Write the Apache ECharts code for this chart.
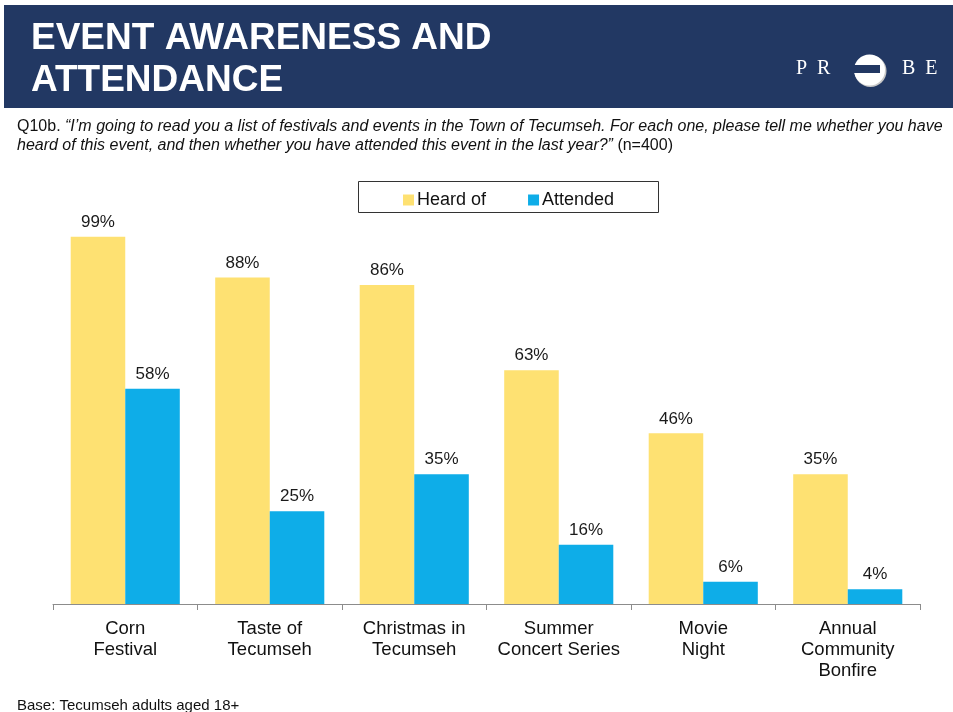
<!DOCTYPE html>
<html>
<head>
<meta charset="utf-8">
<script src="https://cdn.jsdelivr.net/npm/echarts@6/dist/echarts.min.js"></script>
<style>
	html, body { margin: 0; padding: 0; background: #ffffff; }
	#chart { width: 953px; height: 712px; }
</style>
</head>
<body>
<div id="chart"></div>
<script>
// 类别
var categories = ["Corn\nFestival", "Taste of\nTecumseh", "Christmas in\nTecumseh",
	"Summer\nConcert Series", "Movie\nNight", "Annual\nCommunity\nBonfire"];

// 数据
var heardOf = [99, 88, 86, 63, 46, 35];
var attended = [58, 25, 35, 16, 6, 4];

var seriesNames = ["Heard of", "Attended"];
var colors = ["#FEE172", "#0EADE8"];

var navy = "#223863";
var fontFamily = "'Liberation Sans', Arial, sans-serif";

var chart = echarts.init(document.getElementById("chart"), null, {renderer : "canvas"});

function barLabel(){
	return {
		show : true,
		position : "top",
		distance : 6,
		color : "#1a1a1a",
		fontSize : 17,
		fontFamily : fontFamily,
		formatter : "{c}%"
	};
}

var option = {
	animation : false,
	backgroundColor : "#ffffff",
	color : colors,
	textStyle : {fontFamily : fontFamily},
	grid : {
		left : 53,
		right : 33,
		top : 233,
		bottom : 108,
		containLabel : false
	},
	legend : {
		top : 186,
		left : 398,
		itemWidth : 11,
		itemHeight : 11,
		itemGap : 42,
		icon : "rect",
		textStyle : {fontSize : 18, color : "#111111", fontFamily : fontFamily, padding : [0, 0, 0, -2]},
		data : seriesNames
	},
	xAxis : [{
		type : "category",
		data : categories,
		axisLine : {show : true, lineStyle : {color : "#8c8c8c", width : 1}},
		axisTick : {show : true, length : 6, lineStyle : {color : "#8c8c8c"}},
		axisLabel : {
			color : "#111111",
			fontSize : 18.5,
			lineHeight : 21,
			margin : 14,
			interval : 0,
			fontFamily : fontFamily
		},
		splitLine : {show : false}
	}],
	yAxis : [{
		type : "value",
		min : 0,
		max : 100,
		show : false,
		splitLine : {show : false}
	}],
	series : [{
		name : seriesNames[0],
		type : "bar",
		data : heardOf,
		barGap : "0%",
		barCategoryGap : "24.5%",
		label : barLabel()
	}, {
		name : seriesNames[1],
		type : "bar",
		data : attended,
		label : barLabel()
	}],
	graphic : [
		// 标题栏
		{type : "rect", left : 4, top : 5, shape : {width : 949, height : 103}, style : {fill : navy}, z : 1},
		{type : "text", left : 31, top : 18, style : {
			text : "EVENT AWARENESS AND\nATTENDANCE",
			fill : "#ffffff",
			font : "bold 37px " + fontFamily,
			lineHeight : 42
		}, z : 2},
		// PROBE 标志
		{type : "text", left : 796, top : 59, style : {text : "P  R", fill : "#ffffff", font : "20px 'Liberation Serif', serif"}, z : 2},
		{type : "text", left : 902, top : 59, style : {text : "B  E", fill : "#ffffff", font : "20px 'Liberation Serif', serif"}, z : 2},
		{type : "circle", shape : {cx : 870.5, cy : 71, r : 16}, style : {fill : "#c8c8c8"}, z : 2},
		{type : "circle", shape : {cx : 869.5, cy : 70, r : 15.5}, style : {fill : "#ffffff"}, z : 3},
		{type : "rect", shape : {x : 853, y : 65, width : 27, height : 8}, style : {fill : navy}, z : 4},
		// 问题
		{type : "text", left : 17, top : 117, style : {
			text : "Q10b. {i|\u201cI\u2019m going to read you a list of festivals and events in the Town of Tecumseh. For each one, please tell me whether you have}\n{i|heard of this event, and then whether you have attended this event in the last year?\u201d} (n=400)",
			fill : "#111111",
			font : "16px " + fontFamily,
			lineHeight : 19,
			rich : {i : {fontStyle : "italic", fontSize : 16, fontFamily : fontFamily, fill : "#111111", lineHeight : 19}}
		}, z : 2},
		// 图例边框
		{type : "rect", shape : {x : 358.5, y : 181.5, width : 300, height : 31}, style : {fill : "none", stroke : "#333333", lineWidth : 1}, z : 1},
		// 底注
		{type : "text", left : 17, top : 698, style : {text : "Base: Tecumseh adults aged 18+", fill : "#111111", font : "15px " + fontFamily}, z : 2}
	]
};

chart.setOption(option);
</script>
</body>
</html>
